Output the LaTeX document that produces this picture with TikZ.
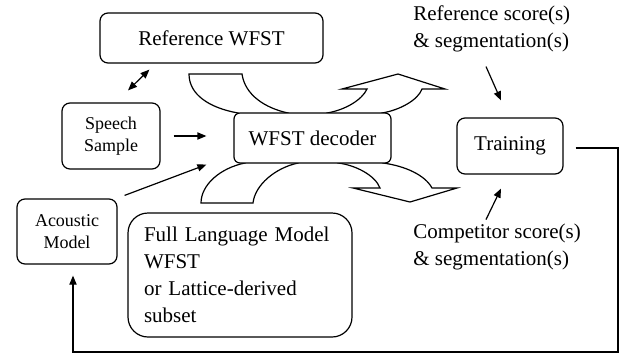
\documentclass[tikz,border=0pt]{standalone}
\usepackage{fontspec}
\setmainfont{Liberation Serif}
\usetikzlibrary{calc,arrows.meta}
\tikzset{
	box/.style={draw, line width=0.6pt, rounded corners=4pt, fill=white, inner sep=0pt, align=center, font=\fontsize{10.5}{13.5}\selectfont},
	smallbox/.style={box, font=\fontsize{9}{11}\selectfont},
	lbl/.style={inner sep=0pt, align=left, font=\fontsize{10.5}{13.5}\selectfont},
	arr/.style={line width=0.6pt, -{Triangle[length=4.5pt,width=3.6pt]}},
	band/.style={draw, line width=0.6pt, fill=white, line join=miter}
}

\begin{document}
\begin{tikzpicture}[x=0.5pt, y=-0.5pt]
			%%%%% START %%%%%
			\useasboundingbox (0, 0) rectangle (631, 359);
			
			% bent arrows behind the decoder
			\draw[band] (189, 74) -- (242, 74) .. controls (245, 95) and (265, 108) .. (288, 113) -- (383, 163) .. controls (405, 166) and (425, 175) .. (432, 188) -- (457, 188) -- (410, 202) -- (353, 188) -- (380, 188) .. controls (375, 175) and (355, 165) .. (338, 163) -- (238, 113) .. controls (210, 108) and (189, 95) .. cycle;
			\draw[band] (201, 203) -- (253, 203) .. controls (255, 185) and (275, 168) .. (298, 163) -- (382, 113) .. controls (400, 110) and (418, 100) .. (422, 89) -- (445, 89) -- (398, 74) -- (342, 89) -- (367, 89) .. controls (362, 100) and (345, 110) .. (327, 113) -- (245, 163) .. controls (220, 168) and (201, 185) .. cycle;
			
			\node[box, minimum width=111.5pt, minimum height=25pt] (refwfst) at (211.5, 38) {Reference WFST};
			\node[smallbox, minimum width=49pt, minimum height=33pt] (speech) at (111, 136) {Speech\\Sample};
			\node[smallbox, minimum width=50pt, minimum height=32.5pt] (acoustic) at (67, 231.5) {Acoustic\\Model};
			\node[box, rounded corners=3pt, minimum width=78.5pt, minimum height=25pt] (decoder) at (312.5, 138) {WFST decoder};
			\node[box, minimum width=53pt, minimum height=28pt] (training) at (510, 146) {Training};
			\node[box, rounded corners=10pt, align=left, text width=96pt, inner xsep=8pt, minimum height=62pt] (langmodel) at (240, 275) {Full Language Model\\WFST\\or Lattice-derived\\subset};
			
			\node[lbl, anchor=west] (reflabel) at (413, 29) {Reference score(s)\\\& segmentation(s)};
			\node[lbl, anchor=west] (complabel) at (413, 247) {Competitor score(s)\\\& segmentation(s)};
			
			\draw[line width=0.6pt, {Triangle[length=4.5pt,width=3.6pt]}-{Triangle[length=4.5pt,width=3.6pt]}] ($(refwfst.south west)+(50, 6)$) -- ($(speech.north)+(17, -12)$);
			\draw[arr] ($(speech.east)+(13, 0)$) -- ($(decoder.west |- speech.east)+(-27, 0)$);
			\draw[arr] ($(acoustic.north east)+(7, -3)$) -- ($(decoder.south west)+(-27, 1)$);
			\draw[arr] ($(reflabel.south west)+(73, 14)$) -- ($(training.north)+(-9, -17)$);
			\draw[arr] ($(complabel.north west)+(73, -4)$) -- ($(training.south)+(-9, 14)$);
			
			\draw[arr] ($(training.east)+(12, 2)$) -- (618, 148) -- (618, 352) -| ($(acoustic.south)+(6, 11)$);
			%%%%% END %%%%%
\end{tikzpicture}
\end{document}
